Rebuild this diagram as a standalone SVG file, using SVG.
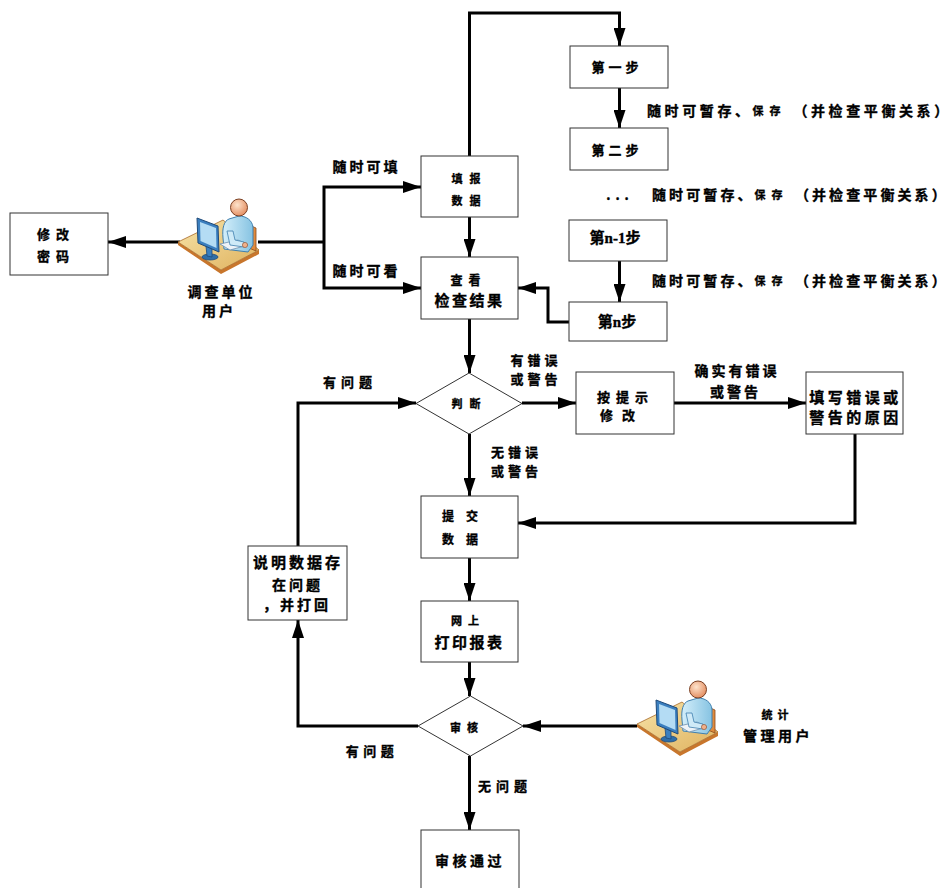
<svg xmlns="http://www.w3.org/2000/svg" xmlns:xlink="http://www.w3.org/1999/xlink" width="952" height="888" viewBox="0 0 952 888">
  <style>
    .box { fill: #fff; stroke: #333; stroke-width: 1; }
    .wire { fill: none; stroke: #000; stroke-width: 3; }
    .arr { marker-end: url(#ah); }
    text { font-family: "Noto Sans CJK SC", "Liberation Sans", sans-serif; font-weight: bold; fill: #000; stroke: #000; stroke-width: 0.35; text-anchor: middle; dominant-baseline: central; }
    .lat { font-family: "Liberation Serif", "Noto Sans CJK SC", serif; }
    .note { text-anchor: start; font-size: 14px; letter-spacing: 3.6px; }
    .note2 { letter-spacing: 3.1px; }
  </style>
  <defs>
    <marker id="ah" markerUnits="userSpaceOnUse" markerWidth="18" markerHeight="12" refX="18" refY="6" orient="auto">
      <path d="M0,0 L18,6 L0,12 Z" fill="#000"/>
    </marker>
    <linearGradient id="deskG" x1="0" y1="0" x2="1" y2="1">
      <stop offset="0" stop-color="#f7e3a8"/>
      <stop offset="1" stop-color="#dfb25e"/>
    </linearGradient>
    <radialGradient id="headG" cx="0.4" cy="0.35" r="0.7">
      <stop offset="0" stop-color="#fde3cc"/>
      <stop offset="1" stop-color="#e38a5c"/>
    </radialGradient>
    <linearGradient id="bodyG" x1="0" y1="0" x2="1" y2="0">
      <stop offset="0" stop-color="#d3eefa"/>
      <stop offset="1" stop-color="#86c3e2"/>
    </linearGradient>
    <!-- person at a desk with a monitor -->
    <g id="pc">
      <polygon points="0,44 43,72 81,52 81,56 43,76 0,47" fill="#c8762c"/>
      <polygon points="0,44 45,22 81,52 43,72" fill="url(#deskG)" stroke="#a8692a" stroke-width="0.8"/>
      <polygon points="71,27 78,30 78,53 71,50" fill="#e08a3c" stroke="#8a4a1a" stroke-width="0.8"/>
      <path d="M51,21 C46,23 44,30 45,40 L46,51 L70,54 L75,47 L75,29 C74,22 68,18 61,18 Z" fill="url(#bodyG)" stroke="#3f7fae" stroke-width="1"/>
      <polygon points="42,46 60,42 70,47 52,52" fill="#eef3f8" stroke="#6f8fae" stroke-width="0.8"/>
      <path d="M49,33 L52,47 L66,49 L66,44 L57,42 L55,33 Z" fill="#cfeaf7" stroke="#3f7fae" stroke-width="0.8"/>
      <circle cx="67" cy="47" r="2.6" fill="#f0b08a" stroke="#8a4a2a" stroke-width="0.6"/>
      <circle cx="61" cy="9.5" r="8.5" fill="url(#headG)" stroke="#7a3f22" stroke-width="1"/>
      <ellipse cx="32" cy="59" rx="8" ry="3" fill="#2f6ea8" stroke="#1e4a7a" stroke-width="0.8"/>
      <polygon points="28,48 34,50 34,59 29,58" fill="#3b7fbf" stroke="#1e4a7a" stroke-width="0.8"/>
      <polygon points="19,20 40,28 41,54 20,45" fill="#3b7fbf" stroke="#1e4a7a" stroke-width="1"/>
      <polygon points="22,24 38,30 38.5,50 22.5,43" fill="#b4dcf4"/>
    </g>
  </defs>

  <!-- connectors -->
  <g id="connectors">
    <path class="wire arr" d="M180,242 H108"/>
    <path class="wire" d="M258,242 H324"/>
    <path class="wire arr" d="M324,242 V187 H421"/>
    <path class="wire arr" d="M324,242 V288 H421"/>
    <path class="wire arr" d="M469.5,156 V13 H619.5 V46"/>
    <path class="wire arr" d="M469.5,217 V257"/>
    <path class="wire arr" d="M619.5,88 V128"/>
    <path class="wire arr" d="M619.5,261 V302"/>
    <path class="wire arr" d="M569,322 H548 V288 H518"/>
    <path class="wire arr" d="M469.5,319 V373"/>
    <path class="wire arr" d="M522,403 H576"/>
    <path class="wire arr" d="M674,403 H806"/>
    <path class="wire arr" d="M855,434 V523 H518"/>
    <path class="wire arr" d="M469.5,434 V496"/>
    <path class="wire arr" d="M469.5,558 V601"/>
    <path class="wire arr" d="M469.5,662 V696"/>
    <path class="wire arr" d="M418,726 H298 V620"/>
    <path class="wire arr" d="M298,546 V403 H416"/>
    <path class="wire arr" d="M637,726 H523"/>
    <path class="wire arr" d="M469.5,756 V830"/>
  </g>

  <!-- edge labels -->
  <g id="labels">
    <text x="366.5" y="166" font-size="14" letter-spacing="3">随时可填</text>
    <text x="366.5" y="269.5" font-size="14" letter-spacing="3">随时可看</text>
    <text x="536" y="359" font-size="13" letter-spacing="4">有错误</text>
    <text x="536" y="378.5" font-size="13" letter-spacing="4">或警告</text>
    <text x="737" y="370" font-size="14" letter-spacing="3">确实有错误</text>
    <text x="735.5" y="391" font-size="14" letter-spacing="3">或警告</text>
    <text x="516.5" y="451.5" font-size="13" letter-spacing="4">无错误</text>
    <text x="516.5" y="470" font-size="13" letter-spacing="4">或警告</text>
    <text x="350" y="381.5" font-size="13" letter-spacing="5">有问题</text>
    <text x="372" y="750" font-size="13" letter-spacing="4.5">有问题</text>
    <text x="505" y="785.5" font-size="13" letter-spacing="5">无问题</text>
    <text class="note" x="647" y="110">随时可暂存、<tspan font-size="11" letter-spacing="6">保存</tspan> （并检查平衡关系）</text>
    <text x="620" y="194" font-size="13" letter-spacing="5">...</text>
    <text class="note note2" x="652" y="194">随时可暂存、<tspan font-size="11" letter-spacing="6">保存</tspan> （并检查平衡关系）</text>
    <text class="note note2" x="652" y="280">随时可暂存、<tspan font-size="11" letter-spacing="6">保存</tspan> （并检查平衡关系）</text>
  </g>

  <!-- nodes -->
  <g id="change-password">
    <rect class="box" x="10" y="213" width="98" height="62"/>
    <text x="56" y="233" font-size="13" letter-spacing="6">修改</text>
    <text x="56" y="255" font-size="13" letter-spacing="6">密码</text>
  </g>
  <g id="survey-user">
    <use xlink:href="#pc" x="178" y="198"/>
    <text x="221.5" y="291" font-size="14" letter-spacing="3">调查单位</text>
    <text x="219" y="310" font-size="14" letter-spacing="3">用户</text>
  </g>
  <g id="fill-data">
    <rect class="box" x="421" y="156" width="97" height="61"/>
    <text x="469.5" y="177.5" font-size="11" letter-spacing="7">填报</text>
    <text x="469.5" y="199.5" font-size="11" letter-spacing="7">数据</text>
  </g>
  <g id="view-results">
    <rect class="box" x="421" y="257" width="97" height="62"/>
    <text x="468.5" y="279" font-size="12" letter-spacing="6">查看</text>
    <text x="469.5" y="299.5" font-size="15" letter-spacing="2.5">检查结果</text>
  </g>
  <g id="step-1">
    <rect class="box" x="570" y="46" width="98" height="42"/>
    <text x="617" y="66.5" font-size="13" letter-spacing="4">第一步</text>
  </g>
  <g id="step-2">
    <rect class="box" x="570" y="128" width="98" height="42"/>
    <text x="617" y="149.5" font-size="13" letter-spacing="4">第二步</text>
  </g>
  <g id="step-n-1">
    <rect class="box" x="569" y="220" width="98" height="41"/>
    <text class="lat" x="615" y="238" font-size="15">第n-1步</text>
  </g>
  <g id="step-n">
    <rect class="box" x="569" y="302" width="98" height="39"/>
    <text class="lat" x="617" y="322" font-size="15">第n步</text>
  </g>
  <g id="judge">
    <polygon class="box" points="416,403.5 469,373 522,403.5 469,434"/>
    <text x="469.5" y="402.5" font-size="11" letter-spacing="7">判断</text>
  </g>
  <g id="fix-by-hint">
    <rect class="box" x="576" y="372" width="98" height="62"/>
    <text x="625.5" y="396" font-size="13" letter-spacing="6">按提示</text>
    <text x="622" y="414" font-size="13" letter-spacing="9">修改</text>
  </g>
  <g id="explain-reason">
    <rect class="box" x="806" y="372" width="97" height="62"/>
    <text x="855.5" y="396" font-size="15" letter-spacing="3.5">填写错误或</text>
    <text x="855.5" y="416" font-size="15" letter-spacing="3.5">警告的原因</text>
  </g>
  <g id="submit-data">
    <rect class="box" x="421" y="496" width="97" height="62"/>
    <text x="466" y="515.5" font-size="12" letter-spacing="12">提交</text>
    <text x="466" y="538.5" font-size="12" letter-spacing="12">数据</text>
  </g>
  <g id="print-report">
    <rect class="box" x="421" y="601" width="97" height="61"/>
    <text x="468" y="620" font-size="11" letter-spacing="6">网上</text>
    <text x="469.5" y="641.5" font-size="15" letter-spacing="2.5">打印报表</text>
  </g>
  <g id="return-note">
    <rect class="box" x="248" y="546" width="99" height="74"/>
    <text x="298" y="561.5" font-size="15" letter-spacing="3">说明数据存</text>
    <text x="297.5" y="584" font-size="14" letter-spacing="3">在问题</text>
    <text x="297" y="603.5" font-size="14" letter-spacing="3">，并打回</text>
  </g>
  <g id="review">
    <polygon class="box" points="418,726 470.5,696 523,726 470.5,756"/>
    <text x="467" y="726.5" font-size="11" letter-spacing="6">审核</text>
  </g>
  <g id="approved">
    <rect class="box" x="421" y="830" width="98" height="62"/>
    <text x="470" y="859.5" font-size="14" letter-spacing="3.5">审核通过</text>
  </g>
  <g id="stats-admin">
    <use xlink:href="#pc" x="637" y="680"/>
    <text x="777.5" y="713.5" font-size="11" letter-spacing="5">统计</text>
    <text x="778" y="734.5" font-size="14" letter-spacing="3.5">管理用户</text>
  </g>
</svg>
